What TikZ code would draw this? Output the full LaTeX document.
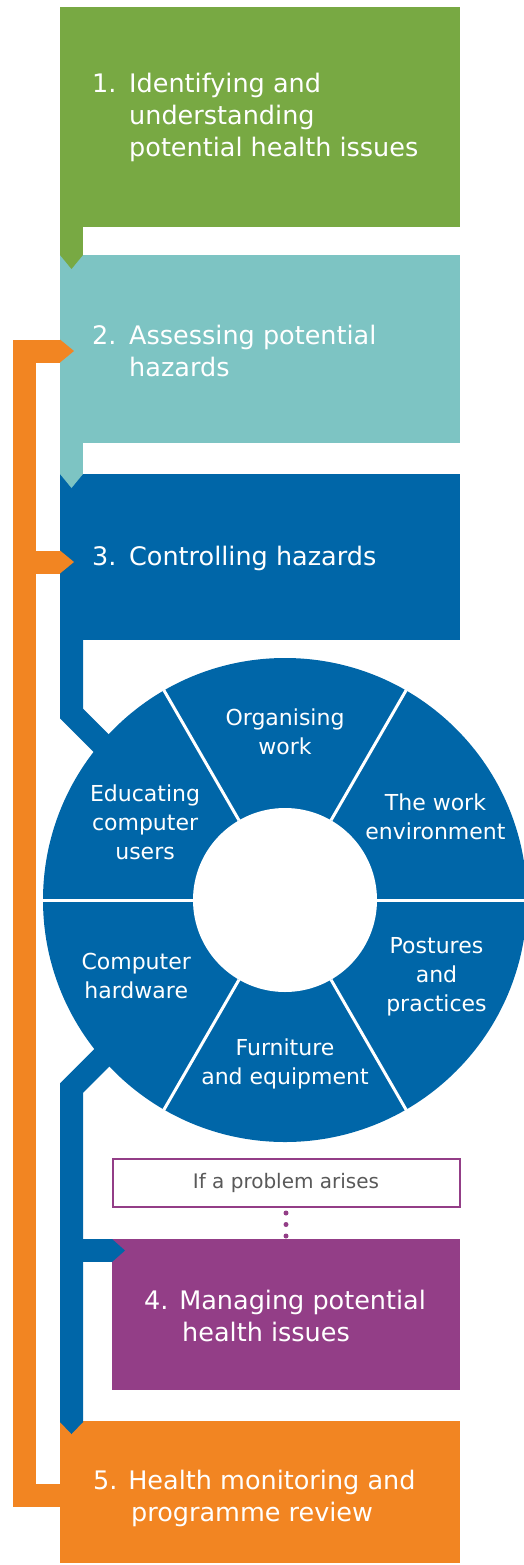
\documentclass[tikz,border=0pt]{standalone}
\usepackage{fontspec}
\setmainfont{DejaVu Sans}
\usepackage{tikz}
\usetikzlibrary{arrows.meta,calc,positioning}
\definecolor{stepgreen}{HTML}{78A943}
\definecolor{stepteal}{HTML}{7DC4C3}
\definecolor{stepblue}{HTML}{0066A8}
\definecolor{steppurple}{HTML}{933E87}
\definecolor{steporange}{HTML}{F28522}
\definecolor{notegray}{HTML}{595959}
\newcommand{\stepno}[1]{\makebox[37pt][l]{#1}}
\newcommand{\stepind}{\hspace*{37pt}}

\begin{document}
\begin{tikzpicture}[x=1pt,y=-1pt,
    stepbox/.style={rectangle,inner sep=0pt,outer sep=0pt,minimum width=400pt},
    steptext/.style={anchor=west,align=left,inner sep=0pt,text=white,font=\fontsize{25.5}{32}\selectfont},
    segtext/.style={align=center,inner sep=0pt,text=white,font=\fontsize{22}{29}\selectfont},
    link/.style={line width=23pt,line join=miter},
    chev/.style={-{Triangle[length=#1,width=23pt,line width=0pt]}}]
        \useasboundingbox (0,0) rectangle (523,1565);
        \node[stepbox,fill=stepgreen,minimum height=220pt] (s1) at (260,117) {};
        \node[stepbox,fill=stepteal,minimum height=188pt] (s2) at (260,349) {};
        \node[stepbox,fill=stepblue,minimum height=166pt] (s3) at (260,557) {};
        \node[stepbox,fill=steppurple,minimum width=348pt,minimum height=151pt] (s4) at (286,1314.5) {};
        \node[stepbox,fill=steporange,minimum height=142pt] (s5) at (260,1492) {};
        \node[steptext] (t1) at ([xshift=32pt]s1.west) {\stepno{1.}Identifying and\\\stepind understanding\\\stepind potential health issues};
        \node[steptext] (t2) at ([xshift=32pt,yshift=-2pt]s2.west) {\stepno{2.}Assessing potential\\\stepind hazards};
        \node[steptext] (t3) at ([xshift=32pt,yshift=-1pt]s3.west) {\stepno{3.}Controlling hazards};
        \node[steptext] (t4) at ([xshift=32pt,yshift=-1pt]s4.west) {4. Managing potential\\\hspace*{38pt}health issues};
        \node[steptext] (t5) at ([xshift=33pt,yshift=-6pt]s5.west) {5. Health monitoring and\\\hspace*{38pt}programme review};
        \node[draw=steppurple,line width=2pt,fill=white,minimum width=347pt,minimum height=48pt,inner sep=0pt,
          text=notegray,font=\fontsize{20}{24}\selectfont] (cond) at (286,1183) {If a problem arises};
        \draw[steppurple,line width=5pt,line cap=round,dash pattern=on 0pt off 11.5pt] ([yshift=-5pt]cond.south) -- (s4.north);
        % tabs between the steps
        \draw[link,stepgreen,chev=14pt] ([xshift=11.5pt]s1.south west) -- ([xshift=11.5pt,yshift=-14pt]s2.north west);
        \draw[link,stepteal,chev=14pt] ([xshift=11.5pt]s2.south west) -- ([xshift=11.5pt,yshift=-14pt]s3.north west);
        % review loop
        \coordinate (rail) at ([xshift=-35.5pt,yshift=-2pt]s2.west);
        \coordinate (c3) at ([yshift=-5pt]s3.west);
        \draw[link,steporange,chev=14pt] ([xshift=8pt,yshift=-3.5pt]s5.west) -| (rail) -- ([xshift=14pt,yshift=-2pt]s2.west);
        \draw[link,steporange,chev=14pt] (c3 -| rail) -- ([xshift=14pt]c3);
        % wheel of controls
        \coordinate (hub) at (285,900);
        \draw[link,stepblue] ([xshift=11.5pt]s3.south west) -- ++(0,73.5) -- ++(50,50);
        \draw[link,stepblue,chev=12pt] ([shift={(-165,139.5)}]hub) -- ++(-48.5,48.5) -- ([xshift=11.5pt,yshift=-13pt]s5.north west);
        \draw[link,stepblue,chev=13pt] ([xshift=-40.5pt,yshift=-11.5pt]s4.north west) -- ([xshift=13pt,yshift=-11.5pt]s4.north west);
        \fill[stepblue] (hub) circle (242pt);
        \fill[white] (hub) circle (92pt);
        \foreach \a in {0,60,...,300}
          \draw[white,line width=3pt] ([shift={(\a:92pt)}]hub) -- ([shift={(\a:242.5pt)}]hub);
        \foreach \a/\rad/\t [count=\i] in {90/168/{Organising\\work},29/172/{The work\\environment},-27/170/{Postures\\and\\practices},
            -90/164/{Furniture\\and equipment},207/167/{Computer\\hardware},151/160/{Educating\\computer\\users}}
          \node[segtext] (seg\i) at ([shift={(\a:\rad pt)}]hub) {\t};
      \end{tikzpicture}
\end{document}
